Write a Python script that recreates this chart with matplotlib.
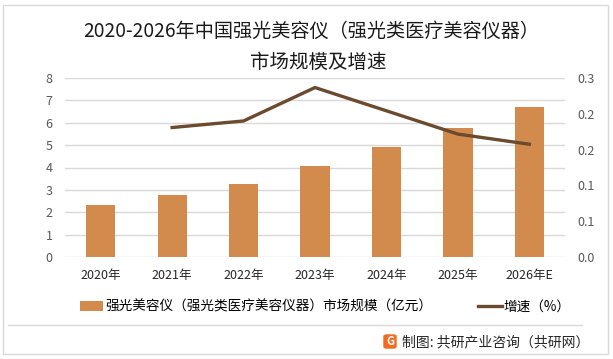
import matplotlib.pyplot as plt
from matplotlib.patches import Rectangle, FancyBboxPatch
from matplotlib.lines import Line2D
from matplotlib.ticker import MultipleLocator, FormatStrFormatter

plt.rcParams['font.family'] = ['Noto Sans CJK SC', 'DejaVu Sans']

# data
years = ['2020年', '2021年', '2022年', '2023年', '2024年', '2025年', '2026年E']
market_size = [2.32, 2.77, 3.26, 4.07, 4.92, 5.77, 6.70]   # 亿元
growth_years = years[1:]
growth = [0.217, 0.228, 0.284, 0.245, 0.206, 0.189]

bar_color = '#D38B4D'
line_color = '#6B4A2E'
grid_color = '#D9D9D9'
tick_color = '#595959'

fig = plt.figure(figsize=(6.13, 3.59), dpi=100)

# outer frame and separator line
fig.add_artist(Rectangle((3 / 613, 1 - 354 / 359), 605 / 613, 349 / 359,
                         transform=fig.transFigure, fill=False,
                         edgecolor='#D9D9D9', linewidth=1))
fig.add_artist(Line2D([8 / 613, 582 / 613], [1 - 325 / 359, 1 - 325 / 359],
                      transform=fig.transFigure, color='#D9D9D9', linewidth=1))

ax = fig.add_axes([65 / 613, 1 - 257 / 359, 500 / 613, 179 / 359])
x = list(range(len(years)))
ax.bar(x, market_size, width=0.41, color=bar_color, zorder=2,
       label='强光美容仪（强光类医疗美容仪器）市场规模（亿元）')
ax.set_xlim(-0.5, len(years) - 0.5)
ax.set_ylim(0, 8)
ax.yaxis.set_major_locator(MultipleLocator(1))
ax.grid(axis='y', color=grid_color, linewidth=1, zorder=0)
ax.set_xticks(x)
ax.set_xticklabels(years, fontsize=9, color='#262626')
ax.tick_params(axis='y', labelsize=9, labelcolor=tick_color, length=0, pad=9)
ax.tick_params(axis='x', length=0, pad=9)
for s in ax.spines.values():
    s.set_visible(False)

ax1 = ax.twinx()
ax1.plot(x[1:], growth, color=line_color, linewidth=2.4, zorder=3,
         label='增速（%）')
ax1.set_ylim(0, 0.3)
ax1.yaxis.set_major_locator(MultipleLocator(0.06))
ax1.yaxis.set_major_formatter(FormatStrFormatter('%.1f'))
ax1.tick_params(axis='y', labelsize=9, labelcolor=tick_color, length=0, pad=9)
for s in ax1.spines.values():
    s.set_visible(False)

# title
fig.text(311 / 613, 1 - 31 / 359, '2020-2026年中国强光美容仪（强光类医疗美容仪器）',
         ha='center', va='center', fontsize=13.8, color='#1a1a1a', fontweight='light')
fig.text(318 / 613, 1 - 62 / 359, '市场规模及增速', ha='center', va='center',
         fontsize=14, color='#1a1a1a', fontweight='light')

# legend
h1, l1 = ax.get_legend_handles_labels()
h2, l2 = ax1.get_legend_handles_labels()
fig.legend(h1 + h2, l1 + l2, loc='center left', bbox_to_anchor=(80 / 613, 1 - 307 / 359),
           ncol=2, frameon=False, fontsize=9.8, handlelength=1.7,
           handletextpad=0.15, columnspacing=3.4, borderaxespad=0, borderpad=0)

# source note with logo
fig.add_artist(FancyBboxPatch((384 / 613, 1 - 348 / 359), 12 / 613, 13 / 359,
                              boxstyle='round,pad=0,rounding_size=0.004',
                              transform=fig.transFigure, color='#F26B21'))
fig.text(390 / 613, 1 - 341.5 / 359, 'G', ha='center', va='center', fontsize=8,
         color='white', fontweight='bold')
fig.text(402 / 613, 1 - 342 / 359, '制图: 共研产业咨询（共研网）', ha='left',
         va='center', fontsize=10, color='#262626')

fig.savefig('out.png', dpi=100)
